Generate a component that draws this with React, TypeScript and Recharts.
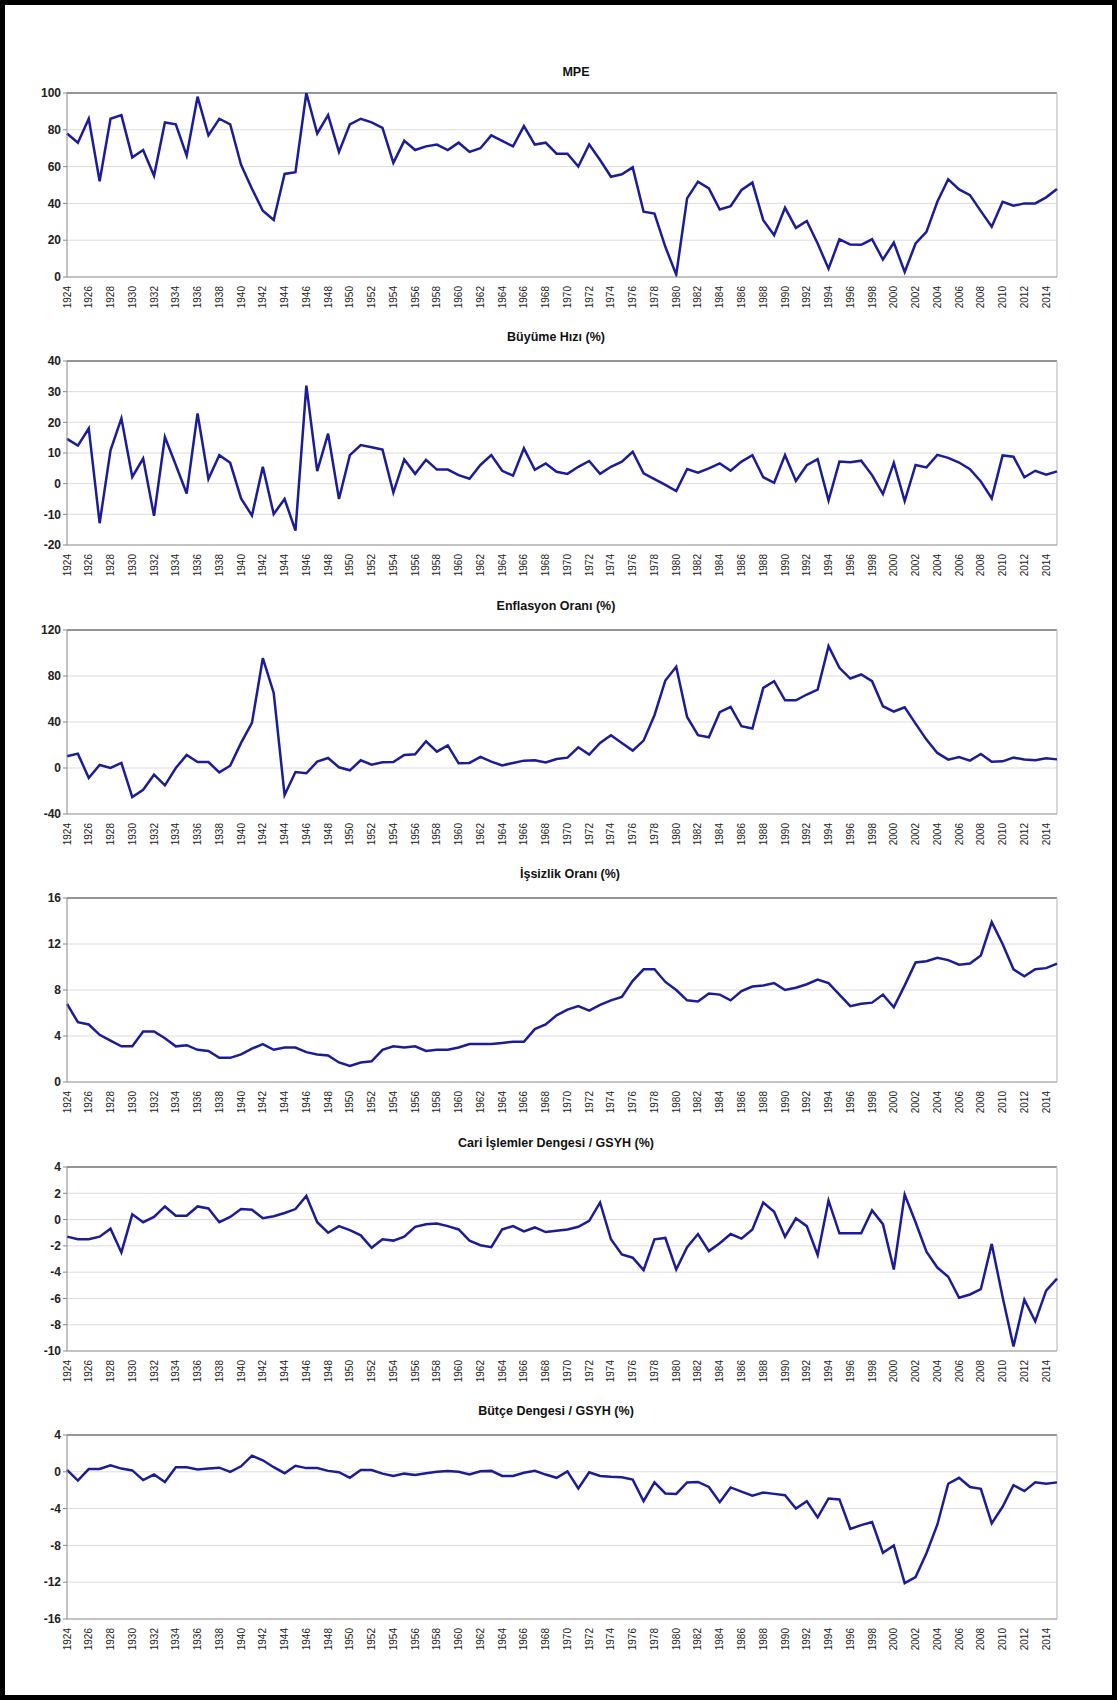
import React from "react";
import {
  LineChart,
  Line,
  XAxis,
  YAxis,
  CartesianGrid,
  ReferenceLine,
} from "recharts";

const years = Array.from({ length: 92 }, (_, i) => 1924 + i);
const yearTicks = years.filter((y) => y % 2 === 0 && y <= 2014);

const mpe = [
  78, 73, 86, 52, 86, 88, 65, 69, 55, 84, 83, 66, 98, 77, 86, 83, 61, 48, 36, 31,
  56, 57, 100, 78, 88, 68, 83, 86, 84, 81, 62, 74, 69, 71, 72, 69, 73, 68, 70, 77,
  74, 71, 82, 72, 73, 67, 67, 60, 72, 63.6, 54.5, 55.8, 59.6, 35.5, 34.5, 16.4,
  1.3, 42.7, 51.8, 48.2, 36.7, 38.5, 47.3, 51.3, 30.9, 22.7, 37.6, 26.7, 30.4,
  18.2, 4.5, 20.5, 17.6, 17.5, 20.5, 9.5, 18.7, 2.7, 18.2, 24.5, 40.9, 53.1, 47.6,
  44.5, 35.8, 27.3, 40.9, 38.7, 40, 40, 43.3, 47.8,
];

const buyume = [
  14.6, 12.4, 18, -12.9, 10.9, 21.3, 2.2, 8.2, -10.5, 15.2, 6.1, -3.2, 22.9, 1.5,
  9.3, 6.8, -4.8, -10.4, 5.5, -9.9, -5, -15.3, 32, 4.1, 16.3, -5, 9.3, 12.6, 11.9,
  11.1, -2.9, 7.9, 3.2, 7.8, 4.6, 4.6, 2.8, 1.6, 6.1, 9.3, 4.2, 2.6, 11.5, 4.5, 6.6,
  3.9, 3.2, 5.5, 7.4, 3.2, 5.5, 7.2, 10.4, 3.4, 1.5, -0.4, -2.4, 4.8, 3.6, 5, 6.6,
  4.2, 7.2, 9.3, 2.1, 0.3, 9.3, 0.9, 6, 8, -5.5, 7.2, 7, 7.5, 2.8, -3.4, 6.8, -5.7,
  6.1, 5.3, 9.4, 8.4, 6.9, 4.7, 0.7, -4.8, 9.2, 8.8, 2.1, 4.2, 2.9, 4,
];

const enflasyon = [
  10.2, 12.5, -8.7, 2.6, 0, 4.4, -25.3, -18.9, -5.8, -15.1, 0, 11.3, 5.2, 5.2, -3.8,
  2, 21.8, 39.2, 95.5, 65.3, -23.5, -3.5, -4.6, 5.5, 8.7, 0.6, -2, 6.7, 2.9, 4.9,
  5.2, 11.3, 11.9, 23.2, 14.2, 19.7, 4.1, 4.4, 9.6, 5.5, 2.3, 4.4, 6.4, 6.7, 4.9,
  7.8, 9, 18, 11.6, 21.8, 28.5, 21.8, 15.1, 23.8, 45.9, 76.1, 88, 44.4, 28.5, 26.7,
  48.5, 53.1, 36.3, 34.3, 69.7, 75.5, 58.9, 58.9, 63.9, 68.2, 106, 87.1, 77.8, 81.3,
  75.5, 53.7, 49.1, 52.8, 38.6, 24.7, 13.1, 7.3, 9.6, 6.4, 12.2, 5.5, 5.8, 9, 7.3,
  6.7, 8.4, 7.5,
];

const issizlik = [
  6.8, 5.2, 5, 4.1, 3.6, 3.1, 3.1, 4.4, 4.4, 3.8, 3.1, 3.2, 2.8, 2.7, 2.1, 2.1, 2.4,
  2.9, 3.3, 2.8, 3, 3, 2.6, 2.4, 2.3, 1.7, 1.4, 1.7, 1.8, 2.8, 3.1, 3, 3.1, 2.7, 2.8,
  2.8, 3, 3.3, 3.3, 3.3, 3.4, 3.5, 3.5, 4.6, 5, 5.8, 6.3, 6.6, 6.2, 6.7, 7.1, 7.4,
  8.8, 9.8, 9.8, 8.7, 8, 7.1, 7, 7.7, 7.6, 7.1, 7.9, 8.3, 8.4, 8.6, 8, 8.2, 8.5, 8.9,
  8.6, 7.6, 6.6, 6.8, 6.9, 7.6, 6.5, 8.4, 10.4, 10.5, 10.8, 10.6, 10.2, 10.3, 11,
  13.9, 12, 9.8, 9.2, 9.8, 9.9, 10.3,
];

const cari = [
  -1.3, -1.5, -1.5, -1.3, -0.7, -2.5, 0.4, -0.2, 0.2, 1, 0.3, 0.3, 1, 0.85, -0.2,
  0.2, 0.8, 0.75, 0.1, 0.25, 0.5, 0.8, 1.8, -0.2, -1, -0.5, -0.8, -1.2, -2.15, -1.5,
  -1.6, -1.3, -0.55, -0.35, -0.3, -0.5, -0.75, -1.6, -1.95, -2.1, -0.75, -0.5, -0.9,
  -0.6, -0.95, -0.85, -0.75, -0.55, -0.1, 1.3, -1.5, -2.65, -2.9, -3.85, -1.5, -1.4,
  -3.8, -2.1, -1.1, -2.4, -1.8, -1.1, -1.45, -0.75, 1.3, 0.6, -1.3, 0.1, -0.5, -2.7,
  1.45, -1.05, -1.05, -1.05, 0.7, -0.35, -3.8, 1.9, -0.2, -2.45, -3.65, -4.35, -5.95,
  -5.7, -5.3, -1.85, -5.9, -9.65, -6.1, -7.75, -5.4, -4.5,
];

const butce = [
  0.2, -0.95, 0.3, 0.3, 0.7, 0.35, 0.15, -0.9, -0.3, -1.1, 0.5, 0.5, 0.25, 0.35,
  0.45, 0, 0.6, 1.75, 1.25, 0.5, -0.15, 0.65, 0.4, 0.4, 0.1, -0.05, -0.65, 0.2, 0.2,
  -0.2, -0.45, -0.2, -0.35, -0.15, 0, 0.1, 0, -0.3, 0.05, 0.1, -0.45, -0.45, -0.1,
  0.1, -0.3, -0.65, 0.05, -1.8, -0.05, -0.45, -0.55, -0.6, -0.85, -3.2, -1.15, -2.35,
  -2.4, -1.15, -1.1, -1.65, -3.3, -1.7, -2.15, -2.6, -2.25, -2.4, -2.55, -4, -3.2,
  -4.95, -2.9, -3, -6.2, -5.8, -5.45, -8.8, -8, -12.1, -11.45, -8.85, -5.75, -1.3,
  -0.65, -1.65, -1.85, -5.6, -3.8, -1.45, -2.1, -1.15, -1.3, -1.15,
];

const data = years.map((year, i) => ({
  year,
  mpe: mpe[i],
  buyume: buyume[i],
  enflasyon: enflasyon[i],
  issizlik: issizlik[i],
  cari: cari[i],
  butce: butce[i],
}));

const FONT = "'Liberation Sans', Arial, sans-serif";
const PLOT_LEFT = 67;
const PLOT_RIGHT = 1057;
const PLOT_H = 184;
const CHART_W = 1117;
const TOP_PAD = 10;

const YearTick = (props: any) => {
  const { x, y, payload } = props;
  return (
    <text
      x={x}
      y={y}
      transform={`rotate(-90, ${x}, ${y})`}
      textAnchor="end"
      dy="0.35em"
      fontSize={10}
      fill="#222"
      fontFamily={FONT}
    >
      {payload.value}
    </text>
  );
};

interface PanelProps {
  title: string;
  dataKey: string;
  ticks: number[];
  plotTop: number;
  titleShift?: number;
  titleDrop?: number;
}

const Panel: React.FC<PanelProps> = ({
  title,
  dataKey,
  ticks,
  plotTop,
  titleShift = 0,
  titleDrop = 0,
}) => {
  const min = ticks[0];
  const max = ticks[ticks.length - 1];
  return (
    <>
      <div
        style={{
          position: "absolute",
          left: titleShift,
          width: 1112,
          top: plotTop - 31 + titleDrop,
          textAlign: "center",
          fontFamily: FONT,
          fontWeight: "bold",
          fontSize: 12.5,
          color: "#111",
        }}
      >
        {title}
      </div>
      <div style={{ position: "absolute", left: 0, top: plotTop - TOP_PAD }}>
        <LineChart
          width={CHART_W}
          height={TOP_PAD + PLOT_H + 45}
          data={data}
          margin={{ top: TOP_PAD, right: CHART_W - PLOT_RIGHT, left: PLOT_LEFT - 50, bottom: 0 }}
        >
          <CartesianGrid vertical={false} stroke="#dcdcdc" strokeWidth={1} />
          <XAxis
            dataKey="year"
            type="number"
            domain={[1924, 2015]}
            ticks={yearTicks}
            interval={0}
            height={45}
            tickLine={false}
            tickSize={4}
            tickMargin={5}
            axisLine={{ stroke: "#999" }}
            tick={(p: any) => <YearTick {...p} />}
          />
          <YAxis
            width={50}
            domain={[min, max]}
            ticks={ticks}
            interval={0}
            allowDataOverflow
            tickSize={4}
            tickMargin={2}
            axisLine={{ stroke: "#888" }}
            tickLine={{ stroke: "#888" }}
            tick={{ fontSize: 12, fontWeight: "bold", fill: "#222", fontFamily: FONT }}
          />
          <ReferenceLine y={max} stroke="#777" strokeWidth={1.5} ifOverflow="extendDomain" />
          <ReferenceLine x={2015} stroke="#ccc" strokeWidth={1.5} />
          <Line
            type="linear"
            dataKey={dataKey}
            stroke="#1c1c96"
            strokeWidth={2.5}
            dot={false}
            isAnimationActive={false}
          />
        </LineChart>
      </div>
    </>
  );
};

export default function App() {
  return (
    <div
      style={{
        position: "absolute",
        left: 0,
        top: 0,
        width: 1117,
        height: 1700,
        boxSizing: "border-box",
        border: "5px solid #000",
        background: "#fff",
      }}
    >
      <div style={{ position: "absolute", left: -5, top: -5 }}>
        <Panel
          title="MPE"
          dataKey="mpe"
          ticks={[0, 20, 40, 60, 80, 100]}
          plotTop={93}
          titleShift={20}
          titleDrop={3}
        />
        <Panel
          title="Büyüme Hızı (%)"
          dataKey="buyume"
          ticks={[-20, -10, 0, 10, 20, 30, 40]}
          plotTop={361}
        />
        <Panel
          title="Enflasyon Oranı (%)"
          dataKey="enflasyon"
          ticks={[-40, 0, 40, 80, 120]}
          plotTop={630}
        />
        <Panel
          title="İşsizlik Oranı (%)"
          dataKey="issizlik"
          ticks={[0, 4, 8, 12, 16]}
          plotTop={898}
          titleShift={14}
        />
        <Panel
          title="Cari İşlemler Dengesi / GSYH (%)"
          dataKey="cari"
          ticks={[-10, -8, -6, -4, -2, 0, 2, 4]}
          plotTop={1167}
        />
        <Panel
          title="Bütçe Dengesi / GSYH (%)"
          dataKey="butce"
          ticks={[-16, -12, -8, -4, 0, 4]}
          plotTop={1435}
        />
      </div>
    </div>
  );
}
